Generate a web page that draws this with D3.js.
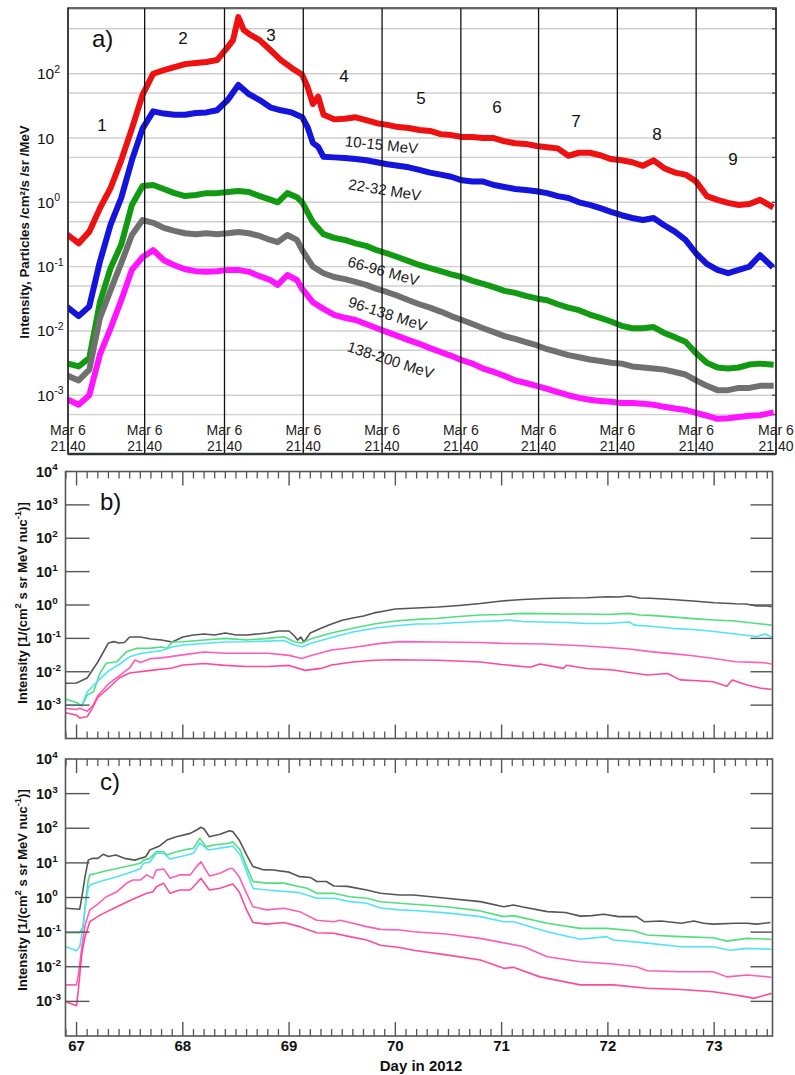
<!DOCTYPE html>
<html><head><meta charset="utf-8">
<script src="https://cdn.jsdelivr.net/npm/d3@7"></script>
<style>body{margin:0;background:#fff}svg{display:block;font-family:"Liberation Sans",Arial,Helvetica,sans-serif}</style>
</head><body><svg id="c" width="795" height="1075"></svg>
<script>
// ---------- Panel a data (day, intensity) ----------
const aRed = [[66.9,0.31],[67.0,0.23],[67.1,0.35],[67.2,0.81],[67.3,1.67],[67.4,4.5],[67.5,14],[67.6,47],[67.7,100],[67.8,114],[67.9,127],[68.0,141],[68.1,147],[68.2,152],[68.3,163],[68.4,259],[68.45,333],[68.5,760],[68.55,480],[68.6,415],[68.7,333],[68.8,234],[68.9,163],[69.0,123],[69.1,96],[69.15,62],[69.2,34],[69.25,44],[69.3,23],[69.4,19.5],[69.5,20],[69.6,21],[69.7,19],[69.8,17],[69.9,16],[70.0,14.8],[70.1,14.3],[70.2,13.3],[70.3,12.9],[70.4,11.5],[70.5,11.1],[70.6,10.4],[70.7,10.4],[70.8,10],[70.9,10],[71.0,8.9],[71.1,8.3],[71.2,8.1],[71.3,7.5],[71.4,7.2],[71.5,6.9],[71.6,5.3],[71.7,5.9],[71.8,5.9],[71.9,5.4],[72.0,4.7],[72.1,4.5],[72.2,4.2],[72.3,3.7],[72.4,4.5],[72.5,3.4],[72.6,2.9],[72.7,2.7],[72.8,2.1],[72.9,1.25],[73.0,1.09],[73.1,0.98],[73.2,0.91],[73.3,0.94],[73.4,1.09],[73.5,0.88]];
const aBlue = [[66.9,0.023],[67.0,0.017],[67.1,0.024],[67.2,0.12],[67.3,0.45],[67.4,1.17],[67.5,4.5],[67.6,14],[67.7,26],[67.8,24],[67.9,23],[68.0,23],[68.1,24.5],[68.2,25],[68.3,27],[68.4,39],[68.5,67],[68.6,48],[68.7,39],[68.8,30],[68.9,27],[69.0,25],[69.1,21],[69.15,14.8],[69.2,8.4],[69.25,7.3],[69.3,5.1],[69.4,5.0],[69.5,4.9],[69.6,4.7],[69.7,4.5],[69.8,4.2],[69.9,3.9],[70.0,3.7],[70.1,3.5],[70.2,3.2],[70.3,2.9],[70.4,2.7],[70.5,2.5],[70.6,2.2],[70.7,2.1],[70.8,2.1],[70.9,1.86],[71.0,1.73],[71.1,1.61],[71.2,1.55],[71.3,1.49],[71.4,1.39],[71.5,1.25],[71.6,1.17],[71.7,1.0],[71.8,0.91],[71.9,0.81],[72.0,0.71],[72.1,0.63],[72.2,0.57],[72.3,0.53],[72.4,0.57],[72.5,0.44],[72.6,0.35],[72.7,0.26],[72.8,0.16],[72.9,0.11],[73.0,0.089],[73.1,0.079],[73.2,0.089],[73.3,0.10],[73.4,0.15],[73.5,0.105]];
const aGreen = [[66.9,0.0031],[67.0,0.0028],[67.1,0.0038],[67.2,0.028],[67.3,0.095],[67.4,0.22],[67.5,0.91],[67.6,1.79],[67.7,1.86],[67.8,1.61],[67.9,1.39],[68.0,1.25],[68.1,1.30],[68.2,1.39],[68.3,1.39],[68.4,1.45],[68.5,1.5],[68.6,1.45],[68.7,1.25],[68.8,1.1],[68.87,1.0],[68.96,1.39],[69.05,1.2],[69.1,1.0],[69.2,0.49],[69.3,0.32],[69.4,0.28],[69.5,0.26],[69.6,0.23],[69.7,0.21],[69.8,0.18],[69.9,0.16],[70.0,0.14],[70.1,0.122],[70.2,0.106],[70.3,0.095],[70.4,0.085],[70.5,0.076],[70.6,0.069],[70.7,0.060],[70.8,0.054],[70.9,0.048],[71.0,0.042],[71.1,0.039],[71.2,0.035],[71.3,0.032],[71.4,0.030],[71.5,0.026],[71.6,0.023],[71.7,0.021],[71.8,0.018],[71.9,0.016],[72.0,0.014],[72.1,0.012],[72.2,0.011],[72.3,0.011],[72.4,0.0115],[72.5,0.0093],[72.6,0.008],[72.7,0.0068],[72.8,0.0045],[72.9,0.0032],[73.0,0.0027],[73.1,0.0026],[73.2,0.0027],[73.3,0.0030],[73.4,0.0031],[73.5,0.0030]];
const aGray = [[66.9,0.0020],[67.0,0.0017],[67.1,0.0025],[67.2,0.016],[67.3,0.043],[67.4,0.113],[67.5,0.31],[67.6,0.53],[67.7,0.48],[67.8,0.40],[67.9,0.36],[68.0,0.33],[68.1,0.32],[68.2,0.33],[68.3,0.32],[68.4,0.33],[68.5,0.345],[68.6,0.33],[68.7,0.30],[68.8,0.26],[68.87,0.24],[68.96,0.31],[69.05,0.26],[69.1,0.18],[69.2,0.10],[69.3,0.079],[69.4,0.069],[69.5,0.064],[69.6,0.058],[69.7,0.052],[69.8,0.045],[69.9,0.040],[70.0,0.035],[70.1,0.030],[70.2,0.026],[70.3,0.023],[70.4,0.020],[70.5,0.017],[70.6,0.0148],[70.7,0.0128],[70.8,0.011],[70.9,0.0096],[71.0,0.0083],[71.1,0.0075],[71.2,0.0067],[71.3,0.0060],[71.4,0.0052],[71.5,0.0047],[71.6,0.0042],[71.7,0.0039],[71.8,0.0036],[71.9,0.0034],[72.0,0.0032],[72.1,0.0031],[72.2,0.0028],[72.3,0.0027],[72.4,0.0026],[72.5,0.0025],[72.6,0.0023],[72.7,0.0021],[72.8,0.0017],[72.9,0.0014],[73.0,0.0012],[73.1,0.0012],[73.2,0.0013],[73.3,0.0013],[73.4,0.0014],[73.5,0.0014]];
const aMagenta = [[66.9,0.00085],[67.0,0.00071],[67.1,0.0010],[67.2,0.0043],[67.3,0.011],[67.4,0.030],[67.5,0.089],[67.6,0.14],[67.7,0.18],[67.8,0.126],[67.9,0.105],[68.0,0.091],[68.1,0.085],[68.2,0.083],[68.3,0.085],[68.4,0.089],[68.5,0.089],[68.6,0.083],[68.7,0.071],[68.8,0.062],[68.87,0.052],[68.96,0.074],[69.05,0.062],[69.1,0.045],[69.2,0.028],[69.3,0.022],[69.4,0.0178],[69.5,0.016],[69.6,0.0148],[69.7,0.0128],[69.8,0.011],[69.9,0.0096],[70.0,0.0083],[70.1,0.0072],[70.2,0.0063],[70.3,0.0054],[70.4,0.0047],[70.5,0.0041],[70.6,0.0035],[70.7,0.0031],[70.8,0.0026],[70.9,0.0023],[71.0,0.0020],[71.1,0.0017],[71.2,0.00155],[71.3,0.0014],[71.4,0.00126],[71.5,0.00112],[71.6,0.0010],[71.7,0.00091],[71.8,0.00085],[71.9,0.00081],[72.0,0.00079],[72.1,0.00076],[72.2,0.00076],[72.3,0.00074],[72.4,0.00071],[72.5,0.00066],[72.6,0.00062],[72.7,0.00059],[72.8,0.00053],[72.9,0.00048],[73.0,0.00043],[73.1,0.00044],[73.2,0.00046],[73.3,0.00048],[73.4,0.00049],[73.5,0.00053]];
const aSeriesNames = ["10-15 MeV","22-32 MeV","66-96 MeV","96-138 MeV","138-200 MeV"];
const aBoundaries = [66.9,67.62,68.37,69.11,69.85,70.59,71.32,72.06,72.80,73.55];
const aRegionNames = ["1","2","3","4","5","6","7","8","9"];
const aXLabelLines = ["Mar 6","21:40"];
const aTickValues = [100,10,1,0.1,0.01,0.001];
const aTickExps = ["2","","0","-1","-2","-3"];
const aGridValues = [5e-4,1e-3,5e-3,1e-2,5e-2,1e-1,5e-1,1,5,10,50,100,500,1000];

// ---------- Panel b data ----------
const bBlack = [[66.9,0.0045],[67.0,0.0046],[67.1,0.0065],[67.2,0.0196],[67.3,0.073],[67.35,0.080],[67.4,0.073],[67.45,0.075],[67.5,0.11],[67.6,0.11],[67.7,0.096],[67.8,0.089],[67.9,0.078],[68.0,0.11],[68.1,0.126],[68.2,0.135],[68.3,0.126],[68.4,0.145],[68.5,0.126],[68.6,0.126],[68.7,0.135],[68.8,0.145],[68.9,0.166],[69.0,0.166],[69.05,0.118],[69.08,0.089],[69.11,0.11],[69.14,0.078],[69.2,0.145],[69.3,0.20],[69.4,0.27],[69.5,0.35],[69.6,0.41],[69.7,0.47],[69.8,0.58],[69.9,0.66],[70.0,0.76],[70.2,0.81],[70.4,0.87],[70.6,0.97],[70.8,1.11],[71.0,1.32],[71.2,1.46],[71.4,1.57],[71.6,1.62],[71.8,1.65],[72.0,1.77],[72.1,1.74],[72.2,1.86],[72.3,1.62],[72.4,1.59],[72.6,1.46],[72.8,1.32],[73.0,1.17],[73.2,1.09],[73.3,1.07],[73.4,0.93],[73.5,0.93],[73.54,0.89]];
const bGreen = [[66.9,0.0015],[67.0,0.0012],[67.05,0.00094],[67.1,0.0020],[67.16,0.0025],[67.22,0.0090],[67.28,0.018],[67.38,0.020],[67.47,0.040],[67.56,0.050],[67.7,0.051],[67.8,0.055],[67.85,0.050],[67.9,0.078],[68.0,0.079],[68.2,0.089],[68.4,0.10],[68.6,0.089],[68.8,0.10],[68.95,0.112],[69.05,0.079],[69.12,0.073],[69.2,0.096],[69.3,0.118],[69.4,0.145],[69.6,0.20],[69.8,0.27],[70.0,0.33],[70.2,0.37],[70.4,0.40],[70.6,0.45],[70.8,0.50],[71.0,0.52],[71.2,0.56],[71.4,0.55],[71.6,0.54],[71.8,0.54],[72.0,0.52],[72.2,0.56],[72.3,0.50],[72.4,0.49],[72.6,0.44],[72.8,0.39],[73.0,0.355],[73.2,0.33],[73.4,0.28],[73.54,0.25]];
const bCyan = [[66.9,0.0010],[67.0,0.0010],[67.05,0.0010],[67.1,0.0025],[67.2,0.0053],[67.3,0.0105],[67.4,0.0165],[67.5,0.028],[67.6,0.035],[67.7,0.039],[67.8,0.043],[67.9,0.055],[68.0,0.063],[68.2,0.070],[68.4,0.078],[68.6,0.079],[68.8,0.083],[68.95,0.086],[69.05,0.063],[69.12,0.056],[69.2,0.070],[69.3,0.086],[69.4,0.106],[69.6,0.155],[69.8,0.20],[70.0,0.24],[70.2,0.27],[70.4,0.275],[70.6,0.30],[70.8,0.32],[71.0,0.34],[71.05,0.355],[71.2,0.32],[71.4,0.31],[71.6,0.30],[71.8,0.28],[72.0,0.28],[72.2,0.31],[72.25,0.25],[72.4,0.23],[72.6,0.20],[72.8,0.185],[73.0,0.16],[73.2,0.135],[73.4,0.114],[73.48,0.135],[73.54,0.11]];
const bPink1 = [[66.9,0.00080],[67.0,0.00074],[67.03,0.00080],[67.1,0.00066],[67.15,0.00094],[67.2,0.0019],[67.3,0.0043],[67.4,0.0075],[67.5,0.013],[67.55,0.0224],[67.6,0.019],[67.7,0.025],[67.8,0.026],[68.0,0.032],[68.2,0.039],[68.4,0.036],[68.6,0.036],[68.8,0.036],[69.0,0.031],[69.12,0.025],[69.2,0.030],[69.4,0.045],[69.6,0.053],[69.86,0.071],[70.04,0.080],[70.4,0.078],[70.8,0.075],[71.0,0.071],[71.4,0.068],[71.8,0.059],[72.0,0.053],[72.2,0.048],[72.4,0.040],[72.6,0.035],[72.8,0.030],[73.0,0.025],[73.2,0.020],[73.47,0.0187],[73.54,0.017]];
const bPink2 = [[66.9,0.00059],[67.0,0.00050],[67.03,0.00041],[67.1,0.00045],[67.15,0.00082],[67.2,0.0017],[67.3,0.0032],[67.4,0.0065],[67.5,0.0092],[67.7,0.011],[67.9,0.013],[68.0,0.016],[68.2,0.0177],[68.4,0.0155],[68.6,0.0144],[68.8,0.0144],[69.0,0.0155],[69.15,0.011],[69.3,0.0126],[69.4,0.016],[69.6,0.0196],[69.8,0.022],[70.0,0.023],[70.4,0.022],[70.8,0.0196],[71.0,0.0165],[71.27,0.0137],[71.36,0.0171],[71.58,0.0126],[71.61,0.0156],[71.8,0.0125],[72.05,0.0113],[72.2,0.0095],[72.37,0.0080],[72.56,0.0089],[72.68,0.0057],[72.85,0.0054],[72.99,0.0050],[73.12,0.0037],[73.17,0.0057],[73.31,0.0040],[73.44,0.0032],[73.54,0.0030]];

// ---------- Panel c data ----------
const cBlack = [[66.9,0.49],[67.03,0.46],[67.05,1.05],[67.08,4.0],[67.11,12],[67.15,13.5],[67.2,13.5],[67.25,17.7],[67.3,15.3],[67.37,16.9],[67.45,13.5],[67.55,12],[67.6,13.5],[67.65,15],[67.69,23.5],[67.78,30.7],[67.85,45.6],[67.94,57],[68.07,71],[68.13,89],[68.17,107],[68.2,95],[68.25,57],[68.35,67],[68.44,85],[68.47,80],[68.53,46],[68.6,17],[68.66,7.8],[68.75,6.4],[68.85,6.2],[69.0,5.4],[69.1,4.0],[69.2,3.8],[69.26,2.9],[69.35,2.9],[69.42,2.15],[69.55,2.1],[69.73,1.65],[69.86,1.32],[70.04,1.18],[70.17,1.18],[70.48,0.95],[70.8,0.76],[71.02,0.54],[71.11,0.61],[71.2,0.53],[71.43,0.39],[71.6,0.37],[71.74,0.29],[71.85,0.30],[71.96,0.33],[72.1,0.28],[72.27,0.28],[72.34,0.20],[72.5,0.21],[72.69,0.18],[72.81,0.21],[72.9,0.18],[72.99,0.17],[73.2,0.18],[73.31,0.18],[73.4,0.17],[73.53,0.19]];
const cGreen = [[66.9,0.096],[67.03,0.096],[67.06,0.14],[67.08,0.54],[67.11,3.2],[67.125,4.5],[67.19,5.0],[67.25,5.6],[67.38,6.9],[67.53,8.7],[67.6,9.7],[67.63,12],[67.69,13.5],[67.75,21],[67.82,21],[67.85,16.9],[67.94,21],[68.04,24.6],[68.1,26.4],[68.16,51],[68.22,29],[68.29,33],[68.44,36.7],[68.47,41],[68.54,23.5],[68.6,7.8],[68.66,2.9],[68.79,2.6],[68.95,2.6],[69.1,2.05],[69.17,1.84],[69.26,1.32],[69.42,1.32],[69.57,1.05],[69.73,0.95],[69.86,0.75],[70.04,0.68],[70.17,0.64],[70.48,0.54],[70.8,0.41],[71.02,0.28],[71.11,0.30],[71.43,0.18],[71.74,0.128],[71.99,0.128],[72.24,0.11],[72.37,0.083],[72.69,0.074],[72.99,0.069],[73.12,0.055],[73.31,0.066],[73.54,0.062]];
const cCyan = [[66.9,0.038],[67.0,0.029],[67.03,0.038],[67.06,0.14],[67.09,0.85],[67.11,1.84],[67.125,2.3],[67.22,2.9],[67.38,4.0],[67.53,5.6],[67.6,6.9],[67.63,9.7],[67.69,10.4],[67.75,19],[67.82,19],[67.88,12.9],[68.04,16.9],[68.1,19],[68.16,38],[68.24,23.5],[68.44,29.4],[68.47,30.8],[68.54,16.9],[68.6,5.6],[68.66,1.84],[68.79,1.65],[69.1,1.38],[69.26,0.95],[69.42,0.95],[69.57,0.76],[69.73,0.68],[69.86,0.5],[70.04,0.44],[70.17,0.42],[70.48,0.36],[70.8,0.28],[71.02,0.20],[71.11,0.20],[71.43,0.103],[71.74,0.062],[71.99,0.074],[72.05,0.059],[72.37,0.048],[72.69,0.038],[72.99,0.038],[73.15,0.030],[73.31,0.034],[73.54,0.032]];
const cPink1 = [[66.9,0.0030],[67.0,0.0030],[67.02,0.0065],[67.05,0.038],[67.08,0.16],[67.125,0.44],[67.19,0.61],[67.28,1.05],[67.38,1.47],[67.47,2.57],[67.53,3.2],[67.6,3.2],[67.66,4.5],[67.72,3.6],[67.75,6.2],[67.82,6.6],[67.88,3.6],[67.97,4.5],[68.07,4.5],[68.13,7.8],[68.17,10.8],[68.25,4.2],[68.35,5.0],[68.44,6.9],[68.47,6.9],[68.53,4.0],[68.6,1.32],[68.66,0.54],[68.79,0.44],[68.95,0.49],[69.1,0.39],[69.26,0.22],[69.42,0.20],[69.48,0.22],[69.57,0.19],[69.73,0.144],[69.86,0.12],[70.04,0.115],[70.17,0.103],[70.48,0.088],[70.8,0.066],[71.02,0.049],[71.21,0.038],[71.43,0.0195],[71.74,0.014],[72.05,0.012],[72.27,0.010],[72.37,0.0077],[72.69,0.0072],[72.99,0.0072],[73.12,0.0051],[73.31,0.0058],[73.54,0.0050]];
const cPink2 = [[66.9,0.00098],[67.0,0.00075],[67.02,0.0026],[67.05,0.0245],[67.08,0.074],[67.125,0.20],[67.22,0.31],[67.38,0.54],[67.53,0.89],[67.66,1.32],[67.72,1.47],[67.75,2.05],[67.82,2.57],[67.88,1.32],[67.97,1.65],[68.07,1.65],[68.13,2.57],[68.17,3.6],[68.25,1.65],[68.35,1.84],[68.44,2.3],[68.47,2.45],[68.53,1.47],[68.6,0.44],[68.66,0.19],[68.79,0.17],[68.95,0.19],[69.1,0.144],[69.26,0.096],[69.42,0.093],[69.57,0.074],[69.73,0.059],[69.86,0.042],[70.04,0.036],[70.17,0.030],[70.48,0.022],[70.8,0.0156],[71.02,0.0090],[71.11,0.0096],[71.36,0.0051],[71.74,0.0030],[72.05,0.0030],[72.37,0.0024],[72.69,0.0022],[72.99,0.0019],[73.15,0.0016],[73.31,0.00135],[73.37,0.00122],[73.54,0.0017]];

const lowerTickExps = [4,3,2,1,0,-1,-2,-3];
const dayLabels = [67,68,69,70,71,72,73];

// ---------- Drawing ----------
const svg = d3.select("#c");
const aColors = ["#ee1111","#1414dd","#129a12","#707070","#ff14ff"];
const bcColors = ["#555555","#4fe07c","#52e4f4","#ff5cb8","#ff4a9a"];

function pow10(sel, x, y, exp, fs, weight, anchor) {
  const t = sel.append("text").attr("x", x).attr("y", y).attr("font-size", fs)
    .attr("font-weight", weight).attr("text-anchor", anchor || "start").attr("fill", "#111");
  t.append("tspan").text("10");
  if (exp !== "") t.append("tspan").attr("dy", -fs*0.42).attr("font-size", fs*0.68).text(exp);
  return t;
}

// ===== Panel a =====
const A = {l:68, r:776, t:8, b:454};
const xA = d3.scaleLinear().domain([66.9, 73.55]).range([A.l, A.r]);
const yA = d3.scaleLog().domain([Math.pow(10,-3.914), Math.pow(10,3.022)]).range([A.b, A.t]);
const gA = svg.append("g");
gA.append("clipPath").attr("id","clipA").append("rect").attr("x",A.l).attr("y",A.t).attr("width",A.r-A.l).attr("height",A.b-A.t);

const gridIn = aGridValues.filter(v => yA(v) > A.t+1 && yA(v) < A.b);
gA.selectAll("line.grid").data(gridIn).join("line")
  .attr("x1",A.l).attr("x2",A.r).attr("y1",d=>yA(d)).attr("y2",d=>yA(d))
  .attr("stroke","#cfcfcf").attr("stroke-width",1.4);
gA.selectAll("line.rt").data(gridIn).join("line")
  .attr("x1",A.r-4).attr("x2",A.r).attr("y1",d=>yA(d)).attr("y2",d=>yA(d))
  .attr("stroke","#444").attr("stroke-width",1.2);

const lineA = d3.line().x(d=>xA(d[0])).y(d=>yA(d[1]));
const aSeries = [aRed, aBlue, aGreen, aGray, aMagenta];
const gAL = gA.append("g").attr("clip-path","url(#clipA)");
aSeries.forEach((s,i) => {
  gAL.append("path").datum(s).attr("d", lineA).attr("fill","none")
    .attr("stroke", aColors[i]).attr("stroke-width", 6).attr("stroke-linejoin","round").attr("stroke-linecap","square");
});

gA.selectAll("line.bd").data(aBoundaries).join("line")
  .attr("x1",d=>xA(d)).attr("x2",d=>xA(d)).attr("y1",A.t).attr("y2",A.b)
  .attr("stroke","#111").attr("stroke-width",1.3);
gA.append("rect").attr("x",A.l).attr("y",A.t).attr("width",A.r-A.l).attr("height",A.b-A.t)
  .attr("fill","none").attr("stroke","#333").attr("stroke-width",1.5);
gA.append("line").attr("x1",A.l).attr("x2",A.r).attr("y1",A.b).attr("y2",A.b).attr("stroke","#333").attr("stroke-width",2.5);

aTickValues.forEach((v,i) => pow10(gA, 37, yA(v)+5.5, aTickExps[i], 15.5, "normal"));

aBoundaries.forEach(d => {
  aXLabelLines.forEach((t,j) => {
    gA.append("text").attr("x", xA(d)).attr("y", 435 + j*16).attr("text-anchor","middle")
      .attr("font-size",14).attr("fill","#222").text(t);
  });
});

const regionPos = [[102,131],[183,44],[271,41],[344,82],[421,104],[497,113],[576,127],[657,140],[733,165]];
aRegionNames.forEach((n,i) => gA.append("text").attr("x",regionPos[i][0]).attr("y",regionPos[i][1])
  .attr("text-anchor","middle").attr("font-size",17).attr("fill","#111").text(n));
gA.append("text").attr("x",92).attr("y",47).attr("font-size",24).attr("fill","#111").text("a)");

const labPos = [[381,150,6],[384,195,9],[382,276,15.5],[386,319,18],[389,365,18]];
aSeriesNames.forEach((n,i) => gA.append("text")
  .attr("transform",`translate(${labPos[i][0]},${labPos[i][1]}) rotate(${labPos[i][2]})`)
  .attr("text-anchor","middle").attr("font-size",15).attr("fill","#1a1a1a").text(n));

gA.append("text").attr("transform","translate(29,232) rotate(-90)").attr("text-anchor","middle")
  .attr("font-size",13.3).attr("font-weight","bold").attr("fill","#111")
  .text("Intensity, Particles /cm²/s /sr /MeV");

// ===== Panels b and c =====
const L = 65.5, R = 772.5;
const xB = d3.scaleLinear().domain([66.896, 73.549]).range([L, R]);

function lowerPanel(top, bottom, series, tag, tagY, titleY, showX) {
  const g = svg.append("g");
  const y = d3.scaleLog().domain([1e-4, 1e4]).range([bottom, top]);
  const id = "clip" + tag;
  g.append("clipPath").attr("id", id).append("rect").attr("x",L).attr("y",top).attr("width",R-L).attr("height",bottom-top);
  const line = d3.line().x(d=>xB(d[0])).y(d=>y(d[1]));
  const gl = g.append("g").attr("clip-path",`url(#${id})`);
  series.forEach((s,i) => gl.append("path").datum(s).attr("d",line).attr("fill","none")
    .attr("stroke", bcColors[i]).attr("stroke-width",1.6).attr("stroke-linejoin","round"));
  const yt = lowerTickExps.filter(e => e < 4).map(e => Math.pow(10,e));
  g.selectAll("line.yl").data(yt).join("line").attr("x1",L).attr("x2",L+24)
    .attr("y1",d=>y(d)).attr("y2",d=>y(d)).attr("stroke","#555").attr("stroke-width",1.4);
  g.selectAll("line.yr").data(yt).join("line").attr("x1",R-22).attr("x2",R)
    .attr("y1",d=>y(d)).attr("y2",d=>y(d)).attr("stroke","#555").attr("stroke-width",1.4);
  const minor = d3.range(669, 736).map(v => v/10).filter(v => Math.abs(v - Math.round(v)) > 1e-6);
  const major = dayLabels;
  [[top,1],[bottom,-1]].forEach(([yy,dir]) => {
    g.selectAll(null).data(minor).join("line").attr("x1",d=>xB(d)).attr("x2",d=>xB(d))
      .attr("y1",yy).attr("y2",yy+dir*7).attr("stroke","#555").attr("stroke-width",1.3);
    g.selectAll(null).data(major).join("line").attr("x1",d=>xB(d)).attr("x2",d=>xB(d))
      .attr("y1",yy).attr("y2",yy+dir*14).attr("stroke","#555").attr("stroke-width",1.4);
  });
  g.append("rect").attr("x",L).attr("y",top).attr("width",R-L).attr("height",bottom-top)
    .attr("fill","none").attr("stroke","#555").attr("stroke-width",1.6);
  lowerTickExps.forEach(e => pow10(g, 36, y(Math.pow(10,e))+5, String(e), 14.5, "bold"));
  g.append("text").attr("x",100).attr("y",tagY).attr("font-size",24).attr("fill","#111").text(tag + ")");
  const t = g.append("text").attr("transform",`translate(27,${titleY}) rotate(-90)`).attr("text-anchor","middle")
    .attr("font-size",13).attr("font-weight","bold").attr("fill","#111");
  t.append("tspan").text("Intensity [1/(cm");
  t.append("tspan").attr("dy",-6).attr("font-size",9.5).text("2");
  t.append("tspan").attr("dy",6).text(" s sr MeV nuc");
  t.append("tspan").attr("dy",-6).attr("font-size",9.5).text("-1");
  t.append("tspan").attr("dy",6).text(")]");
  if (showX) {
    g.selectAll("text.xl").data(dayLabels).join("text").attr("x",d=>xB(d)).attr("y",bottom+15)
      .attr("text-anchor","middle").attr("font-size",15).attr("font-weight","bold").attr("fill","#111").text(d=>d);
    g.append("text").attr("x",421).attr("y",bottom+35).attr("text-anchor","middle")
      .attr("font-size",15).attr("font-weight","bold").attr("fill","#111").text("Day in 2012");
  }
}
lowerPanel(471.5, 738.5, [bBlack,bGreen,bCyan,bPink1,bPink2], "b", 510, 603, false);
lowerPanel(759, 1036, [cBlack,cGreen,cCyan,cPink1,cPink2], "c", 790, 890, true);
</script></body></html>
